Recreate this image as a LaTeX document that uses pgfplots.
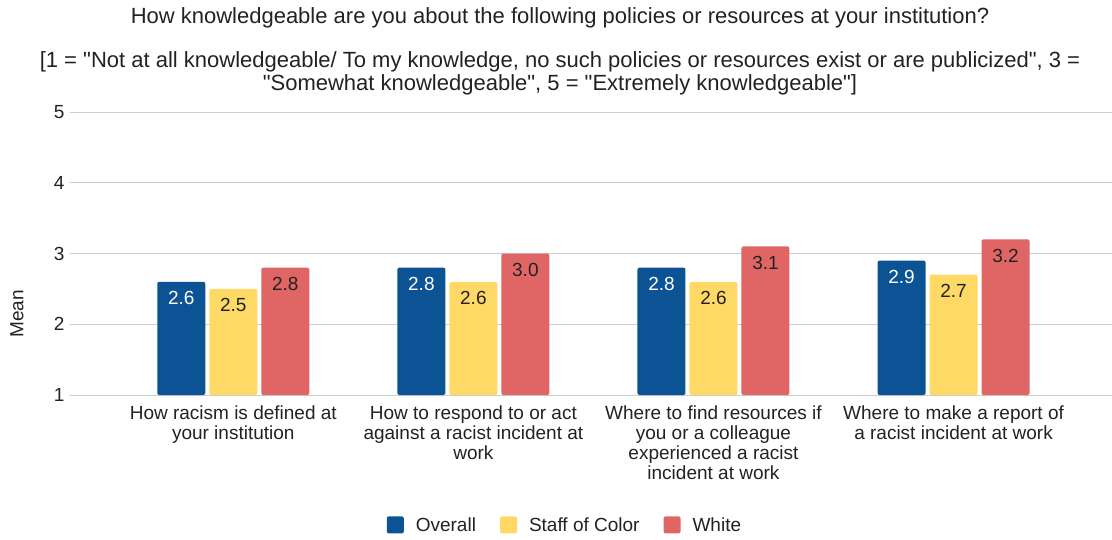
\documentclass[border=0pt]{standalone}
\usepackage{pgfplots}
\pgfplotsset{compat=1.18}
\usepackage{fontspec}
\setmainfont{Liberation Sans}[Ligatures=TeXOff]
\definecolor{cOverall}{HTML}{0B5394}
\definecolor{cStaff}{HTML}{FFD966}
\definecolor{cWhite}{HTML}{E06666}
\definecolor{gridgray}{HTML}{CCCCCC}
\definecolor{txt}{HTML}{222222}
\begin{document}
\begin{tikzpicture}
\useasboundingbox (0,0) rectangle (1112pt,-540pt);
\node[text=txt, font=\fontsize{22}{26}\selectfont] at (560pt,-18pt)
  {How knowledgeable are you about the following policies or resources at your institution?};
\node[text=txt, align=center, font=\fontsize{22}{23}\selectfont] at (560pt,-73.5pt)
  {[1 = "Not at all knowledgeable/ To my knowledge, no such policies or resources exist or are publicized", 3 =\\
   "Somewhat knowledgeable", 5 = "Extremely knowledgeable"]};
\node[text=txt, rotate=90, font=\fontsize{19}{22}\selectfont] at (17pt,-314pt) {Mean};
\begin{axis}[
  at={(70pt,-395pt)}, anchor=south west,
  scale only axis, width=1042pt, height=283pt,
  ybar=4pt, bar width=48pt,
  xmin=-0.68, xmax=3.66, ymin=1, ymax=5,
  ytick={1,2,3,4,5},
  xtick=data,
  xticklabels={How racism is defined at\\your institution,
               How to respond to or act\\against a racist incident at\\work,
               Where to find resources if\\you or a colleague\\experienced a racist\\incident at work,
               Where to make a report of\\a racist incident at work},
  xticklabel style={align=center, text=txt, font=\fontsize{19}{20}\selectfont, yshift=-7pt},
  yticklabel style={text=txt, font=\fontsize{19}{22}\selectfont, xshift=-2pt},
  /pgf/number format/assume math mode=true,
  major tick length=0pt,
  axis line style={draw=none},
  ymajorgrids, major grid style={gridgray, line width=1pt},
  nodes near coords,
  nodes near coords style={anchor=north, yshift=-6pt, font=\fontsize{19}{22}\selectfont,
    /pgf/number format/fixed, /pgf/number format/fixed zerofill,
    /pgf/number format/precision=1},
  legend columns=3,
  legend style={draw=none, at={(0.475,-0.459)}, anchor=center, text=txt,
    font=\fontsize{19}{22}\selectfont,
    /tikz/every odd column/.append style={column sep=10pt},
    /tikz/every even column/.append style={column sep=22pt}},
  sqlegend/.style={legend image code/.code={\fill[##1] (0pt,-8.5pt) rectangle (17pt,8.5pt);}},
]
\addplot[fill=cOverall, draw=none, rounded corners=2pt, sqlegend,
  every node near coord/.append style={text=white}]
  coordinates {(0,2.6) (1,2.8) (2,2.8) (3,2.9)};
\addplot[fill=cStaff, draw=none, rounded corners=2pt, sqlegend,
  every node near coord/.append style={text=txt}]
  coordinates {(0,2.5) (1,2.6) (2,2.6) (3,2.7)};
\addplot[fill=cWhite, draw=none, rounded corners=2pt, sqlegend,
  every node near coord/.append style={text=txt}]
  coordinates {(0,2.8) (1,3.0) (2,3.1) (3,3.2)};
\legend{Overall, Staff of Color, White}
\end{axis}
\end{tikzpicture}
\end{document}
